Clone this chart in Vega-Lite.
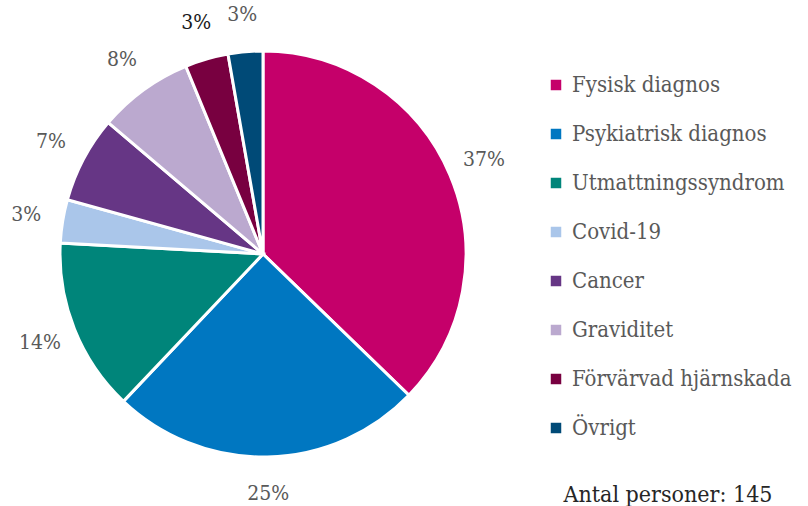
{
  "$schema": "https://vega.github.io/schema/vega-lite/v6.json",
  "width": 526,
  "height": 508,
  "padding": 0,
  "autosize": {"type": "pad"},
  "background": "white",
  "config": {"view": {"stroke": null}},
  "data": {
    "values": [
      {"ordning": 1, "kategori": "Fysisk diagnos", "antal": 54, "etikett": "37%"},
      {"ordning": 2, "kategori": "Psykiatrisk diagnos", "antal": 36, "etikett": "25%"},
      {"ordning": 3, "kategori": "Utmattningssyndrom", "antal": 20, "etikett": "14%"},
      {"ordning": 4, "kategori": "Covid-19", "antal": 5, "etikett": "3%"},
      {"ordning": 5, "kategori": "Cancer", "antal": 10, "etikett": "7%"},
      {"ordning": 6, "kategori": "Graviditet", "antal": 11, "etikett": "8%"},
      {"ordning": 7, "kategori": "Förvärvad hjärnskada", "antal": 5, "etikett": "3%"},
      {"ordning": 8, "kategori": "Övrigt", "antal": 4, "etikett": "3%"}
    ]
  },
  "encoding": {
    "theta": {"field": "antal", "type": "quantitative", "stack": true},
    "order": {"field": "ordning", "type": "quantitative"}
  },
  "layer": [
    {
      "mark": {"type": "arc", "radius": 203, "stroke": "white", "strokeWidth": 3},
      "encoding": {
        "color": {
          "field": "kategori",
          "type": "nominal",
          "sort": null,
          "scale": {
            "domain": ["Fysisk diagnos", "Psykiatrisk diagnos", "Utmattningssyndrom", "Covid-19", "Cancer", "Graviditet", "Förvärvad hjärnskada", "Övrigt"],
            "range": ["#C5006A", "#0077C1", "#00857A", "#AAC6EA", "#663685", "#BBA9CF", "#780040", "#004A77"]
          },
          "legend": {
            "orient": "none",
            "legendX": 545,
            "legendY": 74,
            "title": "Antal personer: 145",
            "titleOrient": "bottom",
            "titleAnchor": "middle",
            "titleFont": "DejaVu Serif Condensed, DejaVu Serif",
            "titleFontSize": 23,
            "titleFontWeight": "normal",
            "titleColor": "#262626",
            "titleLimit": 400,
            "titlePadding": 45,
            "labelFont": "DejaVu Serif Condensed, DejaVu Serif",
            "labelFontSize": 22,
            "labelColor": "#595959",
            "labelLimit": 400,
            "labelOffset": 5,
            "symbolType": "square",
            "symbolSize": 110,
            "symbolStrokeWidth": 0,
            "rowPadding": 27
          }
        }
      }
    },
    {
      "mark": {"type": "text", "radius": 240, "font": "DejaVu Serif Condensed, DejaVu Serif", "fontSize": 21, "align": "center", "baseline": "middle"},
      "encoding": {
        "text": {"field": "etikett", "type": "nominal"},
        "color": {
          "condition": {"test": "datum.kategori === 'Förvärvad hjärnskada'", "value": "#1a1a1a"},
          "value": "#595959"
        }
      }
    }
  ]
}
